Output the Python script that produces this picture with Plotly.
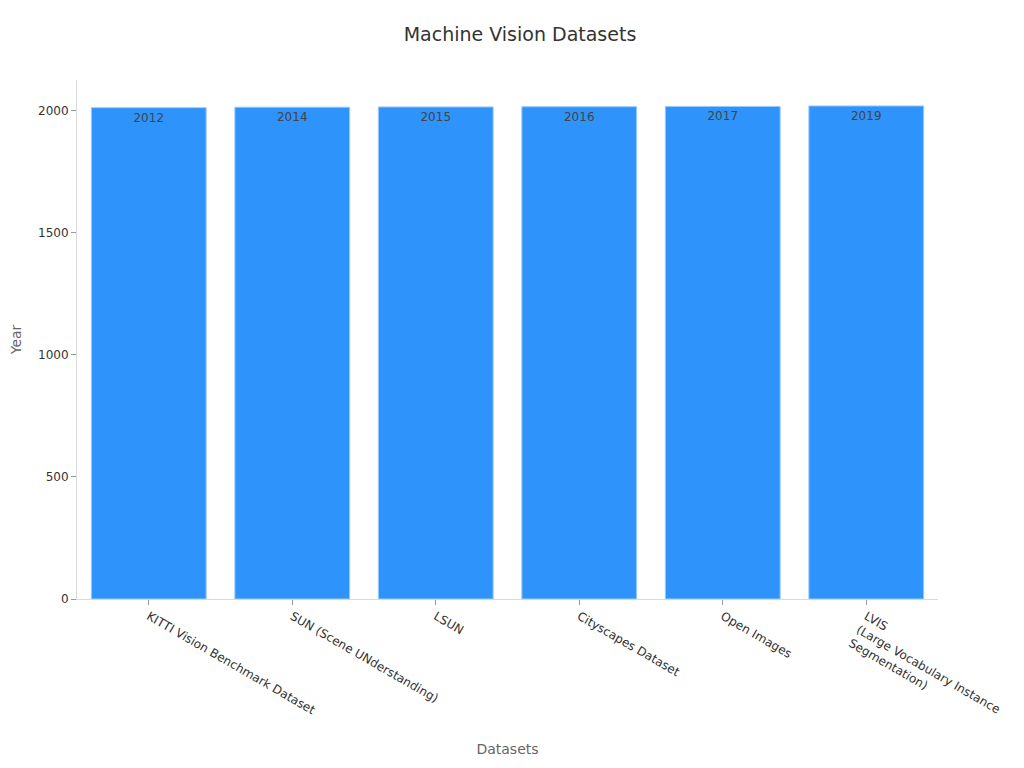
import plotly.graph_objects as go

datasets = [
    "KITTI Vision Benchmark Dataset",
    "SUN (Scene UNderstanding)",
    "LSUN",
    "Cityscapes Dataset",
    "Open Images",
    "LVIS<br>(Large Vocabulary Instance<br>Segmentation)",
]
years = [2012, 2014, 2015, 2016, 2017, 2019]

fig = go.Figure(go.Bar(
    x=datasets, y=years,
    text=[str(v) for v in years], textposition="inside", insidetextanchor="end",
    textfont=dict(color="#444444", size=12),
    marker=dict(color="#2E93FA", line=dict(color="#9ccaf7", width=1)),
    width=0.8,
))

fig.update_layout(
    width=1024, height=768,
    font=dict(family="DejaVu Sans", size=12, color="#333333"),
    title=dict(text="Machine Vision Datasets", x=0.5, y=0.975, font=dict(size=19, color="#333333")),
    plot_bgcolor="white", paper_bgcolor="white",
    margin=dict(l=69, r=94, t=72, b=177),
    showlegend=False,
    xaxis=dict(title=dict(text="Datasets", font=dict(color="#666666", size=14)),
               tickangle=30, showline=True, linecolor="#d9d9d9",
               ticks="outside", tickcolor="#999999", ticklen=5),
    yaxis=dict(title=dict(text="Year", font=dict(color="#666666", size=14)),
               showgrid=False, showline=True, linecolor="#d9d9d9",
               ticks="outside", tickcolor="#999999", ticklen=5, automargin=False,
               tickvals=[0, 500, 1000, 1500, 2000], zeroline=False),
)

fig.write_html("out.html")
